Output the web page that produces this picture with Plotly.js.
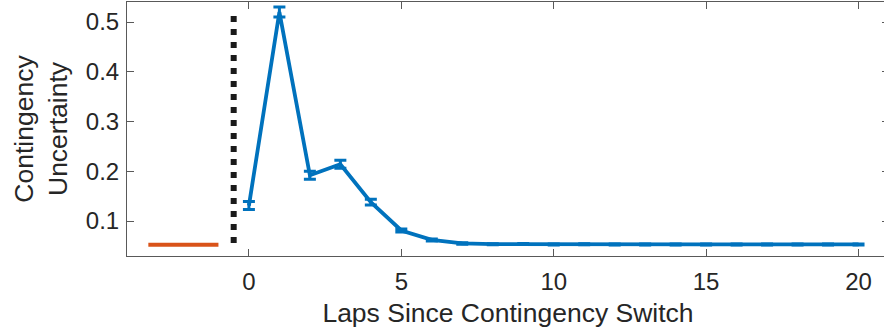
<!DOCTYPE html>
<html>
<head>
<meta charset="utf-8">
<script src="https://cdn.plot.ly/plotly-3.0.1.min.js"></script>
<style>
  html, body { margin: 0; padding: 0; overflow: hidden; background: #fff; }
  #chart { width: 892px; height: 330px; }
</style>
</head>
<body>
<div id="chart"></div>
<script>
// Laps after the contingency switch and mean uncertainty (with s.e.m.)
const laps = [0, 1, 2, 3, 4, 5, 6, 7, 8, 9, 10, 11, 12, 13, 14, 15, 16, 17, 18, 19, 20];
const uncertainty = [0.131, 0.520, 0.192, 0.214, 0.138, 0.081, 0.062, 0.055, 0.0535, 0.0537, 0.053, 0.0532, 0.053, 0.053, 0.053, 0.053, 0.053, 0.053, 0.053, 0.053, 0.053];
const uncertaintyErr = [0.008, 0.010, 0.008, 0.008, 0.006, 0.003, 0.002, 0.0015, 0.001, 0.001, 0.001, 0.001, 0.001, 0.001, 0.001, 0.001, 0.001, 0.001, 0.001, 0.001, 0.001];

// Pre-switch baseline level
const baselineX = [-3.3, -1];
const baselineY = [0.0524, 0.0524];

// Switch marker
const switchX = [-0.5, -0.5];
const switchY = [0.512, 0.0515];

const xTicks = [0, 5, 10, 15, 20];
const yTicks = [0.1, 0.2, 0.3, 0.4, 0.5];

const blue = '#0072BD';
const orange = '#D95319';
const textColor = '#262626';
const axisColor = '#595959';

const traces = [
  {
    x: baselineX, y: baselineY, mode: 'lines', type: 'scatter',
    line: { color: orange, width: 4 }, hoverinfo: 'skip'
  },
  {
    x: switchX, y: switchY, mode: 'lines', type: 'scatter',
    line: { color: '#1a1a1a', width: 6, dash: '6px,7px' }, hoverinfo: 'skip'
  },
  {
    x: laps, y: uncertainty, mode: 'lines', type: 'scatter',
    line: { color: blue, width: 3.8 },
    error_y: { type: 'data', array: uncertaintyErr, visible: true, color: blue, thickness: 3, width: 6 }
  }
];

const layout = {
  width: 892, height: 330,
  margin: { l: 127, r: 3, t: 2, b: 74 },
  showlegend: false,
  paper_bgcolor: '#fff', plot_bgcolor: '#fff',
  font: { family: 'Liberation Sans, Arial, sans-serif', color: textColor, size: 24 },
  xaxis: {
    range: [-4, 21], tickvals: xTicks, ticktext: xTicks.map(String),
    ticks: 'inside', ticklen: 7, tickwidth: 1, tickcolor: axisColor,
    showline: true, linecolor: axisColor, linewidth: 1, mirror: 'ticks',
    showgrid: false, zeroline: false,
    tickfont: { size: 24, color: textColor },
    ticklabelstandoff: 4,
    title: { text: 'Laps Since Contingency Switch', font: { size: 26.5, color: textColor }, standoff: 9 }
  },
  yaxis: {
    range: [0.0297, 0.5402], tickvals: yTicks, ticktext: yTicks.map(v => v.toFixed(1)),
    ticks: 'inside', ticklen: 7, tickwidth: 1, tickcolor: axisColor,
    showline: true, linecolor: axisColor, linewidth: 1, mirror: 'ticks',
    showgrid: false, zeroline: false,
    tickfont: { size: 24, color: textColor },
    ticklabelstandoff: 2,
    title: { text: 'Contingency<br>Uncertainty', font: { size: 26.5, color: textColor }, standoff: 10 }
  }
};

Plotly.newPlot('chart', traces, layout, { staticPlot: true, displayModeBar: false });
</script>
</body>
</html>
